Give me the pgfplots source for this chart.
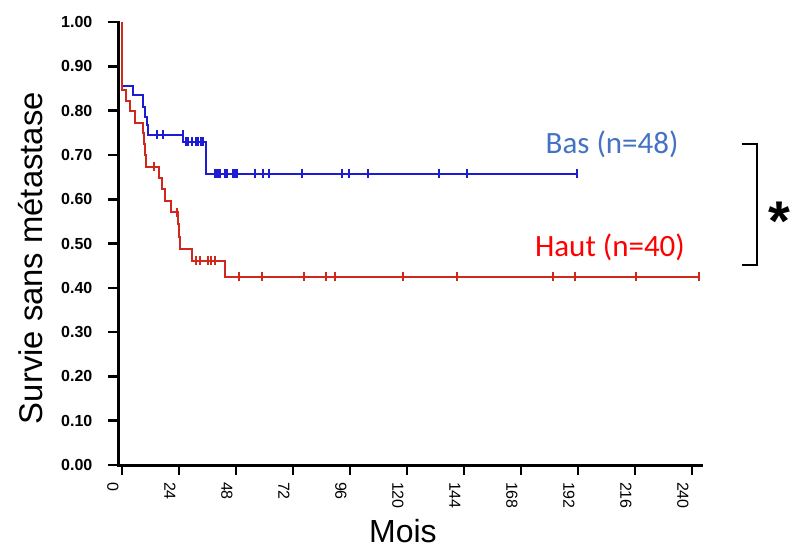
\documentclass[border=0pt]{standalone}
\usepackage{fontspec}
\setmainfont{Liberation Sans}
\newfontfamily\calibri{Carlito}
\usepackage{pgfplots}
\pgfplotsset{compat=1.18}

\definecolor{kmblue}{RGB}{28,28,210}
\definecolor{kmred}{RGB}{208,40,28}
\definecolor{labblue}{RGB}{68,114,196}
\definecolor{labred}{RGB}{255,0,0}

\begin{document}
\begin{tikzpicture}
\begin{axis}[
  scale only axis, width=291.5pt, height=221.5pt,
  xmin=-1.5, xmax=244, ymin=0, ymax=1,
  axis lines*=left, axis line style={line width=1.5pt, line cap=rect},
  clip=false,
  xtick={0,24,...,240}, ytick={0,0.1,...,1.0},
  tick align=outside, major tick length=5pt,
  tick style={line width=1.3pt, black},
  /pgf/number format/assume math mode=true,
  yticklabel style={/pgf/number format/.cd, fixed, fixed zerofill, precision=2, /tikz/.cd,
    font=\fontsize{8}{9}\selectfont\bfseries, xshift=-4.5pt},
  xticklabel style={font=\fontsize{8}{9}\selectfont, rotate=-90, anchor=west, yshift=-4.5pt},
  xlabel={Mois}, ylabel={Survie sans métastase},
  xlabel style={font=\fontsize{16}{18}\selectfont, at={(axis description cs:0.488,-0.149)}, anchor=center},
  ylabel style={font=\fontsize{16.4}{18}\selectfont, at={(axis description cs:-0.1500,0.467)}, anchor=center},
]
% invisible frame for the overall picture size
\path (rel axis cs:-0.2031,-0.1783) rectangle (rel axis cs:1.1554,1.0497);

% Bas (n=48)
\addplot[const plot, kmblue, line width=1pt] coordinates {
  (0,1.0) (0,0.855) (4.8,0.835) (9,0.809) (9.7,0.786) (10.4,0.767) (11.1,0.746)
  (25.8,0.730) (35.4,0.658) (192,0.658)};
\addplot[only marks, mark=|, mark size=2.2pt, kmblue, mark options={line width=1pt}] coordinates {
  (14.6,0.746) (17.4,0.746) (25.5,0.746)
  (26.9,0.730) (27.9,0.730) (29.3,0.730) (31.2,0.730) (32.1,0.730) (33.1,0.730) (34.2,0.730)
  (39.2,0.658) (39.9,0.658) (40.6,0.658) (41.3,0.658) (43.5,0.658) (44.2,0.658)
  (46.7,0.658) (47.5,0.658) (48.3,0.658) (56,0.658) (59.5,0.658) (62,0.658)
  (75.7,0.658) (92.5,0.658) (95.7,0.658) (103.7,0.658) (133.6,0.658) (145.1,0.658) (191.7,0.658)};

% Haut (n=40)
\addplot[const plot, kmred, line width=1pt] coordinates {
  (0,1.0) (0,0.847) (1.7,0.822) (3.2,0.798) (5.5,0.773) (8.7,0.75) (9.2,0.725)
  (9.6,0.70) (10,0.673) (15.7,0.647) (16.7,0.622) (18.1,0.597) (20.5,0.570)
  (23.7,0.543) (24,0.515) (24.4,0.487) (29.3,0.461) (43.4,0.425) (243,0.425)};
\addplot[only marks, mark=|, mark size=2.2pt, kmred, mark options={line width=1pt}] coordinates {
  (13.6,0.673) (23.3,0.570)
  (31.2,0.461) (32.8,0.461) (36.3,0.461) (37.5,0.461) (39.2,0.461)
  (49.4,0.425) (58.8,0.425) (76.8,0.425) (85.9,0.425) (89.7,0.425) (118.4,0.425)
  (141.2,0.425) (181.6,0.425) (190.7,0.425) (216.4,0.425) (243.1,0.425)};

\node[anchor=base, text=labblue, font=\calibri\fontsize{15.5}{17}\selectfont] at (axis cs:206.4,0.7036) {Bas (n=48)};
\node[anchor=base, text=labred, font=\calibri\fontsize{15.5}{17}\selectfont] at (axis cs:205.5,0.470) {Haut (n=40)};

\draw[line width=1pt] (axis cs:260.9,0.7246) -- (axis cs:267.2,0.7246) -- (axis cs:267.2,0.4515) -- (axis cs:260.9,0.4515);
\node[font=\fontsize{28}{30}\selectfont\bfseries, inner sep=0pt] at (axis cs:277,0.551) {*};
\end{axis}
\end{tikzpicture}
\end{document}
